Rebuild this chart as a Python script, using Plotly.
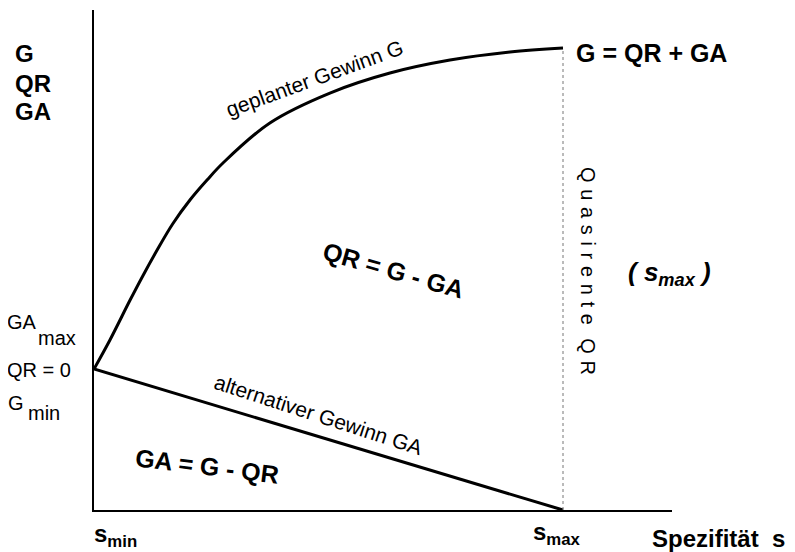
import plotly.graph_objects as go

# ---- data (in units: s from s_min=0 to s_max=1; profit with GA_max = 1) ----
s_curve = [0.0, 0.034, 0.077, 0.104, 0.134, 0.168, 0.205, 0.241, 0.275, 0.375,
           0.503, 0.631, 0.759, 0.887, 1.0]
g_curve = [1.0, 1.206, 1.489, 1.66, 1.84, 2.03, 2.20, 2.340, 2.461, 2.745,
           2.957, 3.099, 3.191, 3.248, 3.277]
s_ga = [0.0, 1.0]
ga_line = [1.0, 0.0]
s_max_line = [1.0, 1.0]
qr_line = [0.0, 3.277]

OFF = 8                      # page body margin of the html page
W, H = 795 - OFF, 552 - OFF  # figure size so that it fits the window
L, R, T, B = 94, 672, 10, 510  # plot area in screen pixels

FONT = "Liberation Sans, Arial, Helvetica, sans-serif"

fig = go.Figure()
fig.add_trace(go.Scatter(x=s_curve, y=g_curve, mode="lines",
                         line=dict(color="black", width=3, shape="spline", smoothing=1.0),
                         hoverinfo="skip"))
fig.add_trace(go.Scatter(x=s_ga, y=ga_line, mode="lines",
                         line=dict(color="black", width=3), hoverinfo="skip"))
fig.add_trace(go.Scatter(x=s_max_line, y=qr_line, mode="lines",
                         line=dict(color="#777777", width=1, dash="dot"),
                         hoverinfo="skip"))


def px(xp, yp):
    return (xp - L) / (R - L), (B - yp) / (B - T)


anns = []


def add(text, xp, yp, size, xanchor="left", angle=0, yanchor="middle"):
    x, y = px(xp, yp)
    anns.append(dict(text=text, x=x, y=y, xref="paper", yref="paper",
                     xanchor=xanchor, yanchor=yanchor, textangle=angle,
                     showarrow=False, font=dict(family=FONT, size=size, color="black")))


add("<b>G</b>", 13, 54, 24)
add("<b>QR</b>", 13, 83, 24)
add("<b>GA</b>", 13, 112, 24)
add("<b>G = QR + GA</b>", 574, 53, 25)
add("geplanter Gewinn G", 314, 78, 21, "center", -20)
add("alternativer Gewinn GA", 318, 414, 21, "center", 18)
add("<b>QR = G - GA</b>", 393, 270, 25, "center", 16)
add("<b>GA = G - QR</b>", 207, 466, 25, "center", 7)
add("<b><i>( s<sub>max</sub> )</i></b>", 669, 273, 26, "center")
sp = "\u2004"
add(sp.join(list("Quasirente")) + sp * 2 + sp.join(list("QR")), 588, 271, 20, "center", 90)
add("GA", 5, 322, 20)
add("max", 36, 338, 20)
add("QR = 0", 5, 370, 20)
add("G", 6, 403, 20)
add("min", 26, 413, 20)
add("<b>s<sub>min</sub></b>", 92, 535, 24)
add("<b>s<sub>max</sub></b>", 531, 533, 24)
add("<b>Spezifität\u00a0\u00a0s</b>", 650, 538, 24)

fig.update_layout(
    width=W, height=H,
    margin=dict(l=L - OFF, r=W - (R - OFF), t=T - OFF, b=H - (B - OFF), pad=0),
    paper_bgcolor="white", plot_bgcolor="white",
    showlegend=False,
    annotations=anns,
    xaxis=dict(range=[0, (R - L) / 469], showgrid=False, zeroline=False,
               showticklabels=False, ticks="", showline=True, linecolor="black",
               linewidth=2, fixedrange=True),
    yaxis=dict(range=[0, (B - T) / 141], showgrid=False, zeroline=False,
               showticklabels=False, ticks="", showline=True, linecolor="black",
               linewidth=2, fixedrange=True),
)

fig.write_html("out.html", config={"displayModeBar": False})
